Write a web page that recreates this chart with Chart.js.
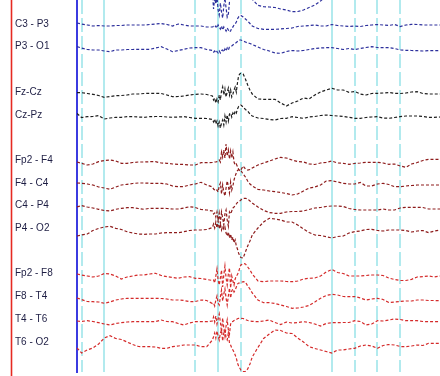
<!DOCTYPE html>
<html><head><meta charset="utf-8">
<script src="https://cdn.jsdelivr.net/npm/chart.js@4.4.1/dist/chart.umd.min.js"></script>
<style>html,body{margin:0;padding:0;background:#fff;}canvas{display:block;}</style>
</head><body>
<canvas id="c" width="440" height="376" style="width:440px;height:376px"></canvas>
<script>
// time axis (seconds)
const times = [0.76,0.80,0.85,0.90,0.95,1.00,1.05,1.10,1.15,1.20,1.25,1.30,1.35,1.40,1.45,1.50,1.55,1.60,1.65,1.70,1.75,1.80,1.85,1.90,1.95,
1.96,1.97,1.98,1.99,2.00,2.01,2.02,2.03,2.04,2.05,2.06,2.07,2.08,2.09,2.10,2.11,2.12,2.13,2.14,2.15,2.16,2.17,2.18,2.19,2.20,
2.22,2.24,2.26,2.28,2.30,
2.35,2.40,2.45,2.50,2.55,2.60,2.65,2.70,2.75,2.80,2.85,2.90,2.95,3.00,3.05,3.10,3.15,3.20,3.25,3.30,3.35,3.40,3.45,3.50,3.55,3.60,3.65,3.70,3.75,3.80,3.85,3.90,3.95];

const channelNames = ["C3 - P3","P3 - O1","Fz-Cz","Cz-Pz","Fp2 - F4","F4 - C4","C4 - P4","P4 - O2","Fp2 - F8","F8 - T4","T4 - T6","T6 - O2"];
const channelSlots = [0,1,3,4,6,7,8,9,11,12,13,14];
const solidLines = [1.0, 2.0, 3.0];
const dashedLines = [0.8, 1.8, 2.2, 3.2, 3.4, 3.6];

// signal amplitudes (positive = upward deflection)
const topTrace = [null,null,null,null,null,null,null,null,null,null,null,null,null,null,null,null,null,null,null,null,null,null,null,null,7,
-9.7,1.3,-4.7,3.3,-10.7,-15.7,-3.7,-12.7,-18.7,-6.7,1.3,-8.7,-17.7,-14.7,-2.7,5.3,9.3,12,14,15,16,16,15,14,13,
11,9,6,3,0,
-6,-7.4,-7.7,-8.2,-9.7,-10.7,-12.4,-12.2,-10.7,-8.2,-5.7,-1.7,3.3,null,null,null,null,null,null,null,null,null,null,null,null,null,null,null,null,null,null,null,null];

const c3p3 = [-1,-2,-3,-4,-3.5,-4,-4,-3.5,-3.5,-3,-3,-3,-3,-2.5,-2,-1.5,-2.5,-4,-2,-3,-4,-4,-4,-5,-5,
-4.5,-5.5,-4,-6,-3,-5,-7,-4,-8,-5,-7,-9,-6,-8,-10,-9,-6,-5,-3,-2,0,3,5,6,6.5,
5,3,1,-1.5,-4,
-6.5,-7.3,-7.3,-7.3,-7,-6.5,-6,-4.5,-4,-3.5,-3,-4,-4,-2.5,-3.5,-4,-4.5,-4,-4.5,-3.5,-3,-2.5,-3,-3.5,-2.5,-4.5,-3,-2.3,-2.5,-3,-3,-3,-3];

const p3o1 = [-2,-3.3,-4.8,-5.3,-5.3,-6.3,-7,-5.3,-5.3,-4.8,-4.8,-4.6,-4.6,-4.6,-3.3,-2,-4.3,-7,-5.8,-4.6,-3.3,-3,-3,-4.8,-5.8,
-7.3,-6.3,-8.3,-6.8,-8.3,-6.3,-8.3,-5.8,-5.3,-7.3,-4.3,-6.3,-3.3,-5.3,-2.3,-1.8,-1.3,-0.3,0.7,1.4,2.2,3.2,4.2,4.7,4.7,
3.7,2.7,1.7,1.2,0.2,
-2.3,-4.8,-6.3,-8.3,-8.6,-6.8,-5.8,-6.3,-5.8,-4.8,-3.8,-3.3,-3,-3,-3.8,-4.8,-3.8,-4.8,-3.8,-2.8,-2,-2.8,-3,-3,-3.8,-5.3,-5.6,-5.8,-6,-6.3,-5.8,-6,-5.8];

const fzcz = [-2.6,-2.6,-3.4,-4.2,-5.4,-7.2,-6.4,-5.6,-5.4,-4.9,-3.9,-3.9,-3.4,-3.2,-3.2,-3.4,-4.9,-6.6,-6.4,-5.9,-4.9,-4.2,-3.9,-4.4,-5.9,
-9.9,-7.9,-12.9,-8.9,-11.9,-4.9,-9.9,-0.9,3.1,-4.9,1.1,-6.9,-1.9,2.1,-4.9,0.1,-6.9,-3.9,0.1,3.1,-1.9,7.1,14.1,16.1,16.8,
16.1,11.1,5.1,0.1,-3.9,
-8.9,-9.2,-9.2,-9.2,-12.9,-15.9,-12.9,-10.9,-7.9,-8.9,-4.9,-1.9,0.1,1.8,0.1,0.1,-2.2,-1.4,-3.9,-4.9,-3.4,-3.2,-2.9,-2.4,-3.2,-3.4,-2.9,-1.9,-1.6,-3.4,-3.9,-3.9,-3.9];

const czpz = [-0.7,-4.7,-3.9,-3.7,-2.7,-6.2,-5.2,-4.5,-4.5,-3.9,-3.9,-4.2,-4.5,-3.9,-3.7,-3.7,-4.2,-4.5,-4.2,-3.9,-4.7,-5.5,-5.5,-5.7,-6.7,
-9.2,-6.2,-11.2,-8.2,-13.2,-9.2,-15.2,-10.2,-7.2,-12.2,-3.2,-9.2,-2.2,-8.2,-1.2,-0.2,-4.2,-0.2,-2.2,1.8,-0.2,3.8,6.3,7.3,7.8,
5.8,3.3,1.8,-1.2,-3.2,
-5.2,-5.7,-6.7,-7.2,-5.7,-5.5,-3.9,-4.7,-5.5,-4.2,-3.7,-2.7,-2.2,-2.7,-3.2,-3.7,-4.5,-5.5,-5.5,-4.7,-4.2,-3.9,-5.2,-5.5,-4.7,-3.9,-3.2,-3.2,-3.2,-3.7,-4.5,-4.5,-4.2];

const fp2f4 = [-3.8,-5.1,-6.8,-5.8,-3.5,-2.3,-1.8,-2.8,-5.1,-5.1,-4.3,-3.8,-3.8,-3.5,-3.5,-4.8,-5.1,-5.8,-6.1,-6.3,-6.8,-6.8,-4.5,-4.5,-4.3,
-4.3,-3.8,-3.8,-3.5,-2.8,-1.8,-3.8,6.2,1.2,8.2,0.2,14.2,2.2,8.2,-0.8,7.2,0.2,6.2,-3.8,-6.8,-5.8,-8.3,-10.8,-12.8,-11.8,
-7.8,-10.8,-11.8,-11.3,-9.8,
-6.8,-4.8,-2.8,-0.8,0.9,0.2,-1.8,-3.3,-3.8,-5.8,-6.3,-4.8,-4.1,-2.8,-4.8,-5.1,-6.1,-5.3,-4.8,-4.1,-4.1,-4.1,-4.8,-6.1,-5.8,-7.8,-9.1,-5.8,-4.3,-2.3,-1.1,-1.1,-1.1];

const f4c4 = [-2.1,-2.4,-3.1,-4.1,-6.1,-7.1,-8.4,-6.1,-4.1,-3.4,-2.6,-2.1,-2.1,-2.4,-2.4,-2.4,-3.1,-5.1,-5.8,-5.6,-4.1,-3.1,-1.4,-4.1,-6.1,
-8.1,-9.1,-10.1,-9.1,-11.1,-5.1,-2.1,-13.1,-4.1,-11.1,-15.1,-7.1,-0.1,-5.1,-12.1,-1.1,-9.1,-5.1,0.9,4.9,7.9,10.4,11.4,10.9,10.4,
6.9,3.9,-0.1,-3.1,-5.1,
-8.4,-9.1,-10.1,-10.8,-11.6,-12.6,-14.1,-13.1,-10.1,-7.1,-6.1,-4.1,-0.1,0.2,-1.1,-2.4,-3.1,-3.1,-1.6,-5.1,-5.1,-3.1,-2.4,-3.6,-5.8,-5.8,-5.1,-4.6,-4.1,-4.1,-4.1,-4.1,-4.1];

const c4p4 = [-3.4,-1.9,-3.4,-4.4,-5.7,-6.9,-7.4,-5.7,-4.7,-4.1,-4.1,-4.9,-5.7,-4.7,-4.7,-4.7,-4.9,-5.4,-5.4,-4.4,-3.1,-3.9,-5.9,-6.4,-7.4,
-10.4,-9.4,-13.4,-8.4,-16.4,-9.4,-19.4,-8.4,-14.4,-21.4,-10.4,-6.4,-16.4,-22.4,-8.4,-10.4,-7.4,-4.4,-3.4,-1.9,-0.4,1.1,2.1,2.6,3.6,
5.1,5.3,4.6,2.6,0.6,
-3.4,-6.9,-8.9,-9.7,-9.7,-8.4,-7.9,-7.9,-7.4,-5.9,-4.4,-3.9,-2.9,-2.4,-2.4,-2.9,-4.9,-5.9,-6.4,-6.4,-6.4,-6.4,-5.4,-6.4,-6.4,-4.4,-3.7,-3.7,-3.7,-3.9,-5.4,-5.4,-5.4];

const p4o2 = [-9.7,-8.7,-7.7,-4.2,-2.2,-0.7,0,-2,-3.2,-5.4,-6.7,-7.7,-8,-7.7,-7.7,-6.7,-6.4,-6.4,-6.4,-5.4,-4.2,-3.7,-3.7,-3.2,-1.2,
2.3,-1.7,4.3,-1.7,5.3,-2.7,2.3,-3.7,0.3,-2.7,-0.7,-6.7,-9.7,-5.7,-11.7,-7.7,-13.7,-10.7,-16.7,-13.7,-19.7,-22.7,-26.7,-29.7,-31.2,
-31.7,-25.7,-19.7,-14.7,-8.7,
-1.7,4.3,8,7.3,6.3,4.3,4.3,1.3,-2.7,-6.2,-8.7,-9.2,-10.4,-11.7,-10.2,-9.7,-6.7,-5.4,-4.7,-3.2,-3,-4.2,-4.7,-3.7,-3.7,-3.7,-4.2,-5.7,-4.7,-4.2,-6.4,-4.7,-3.7];

const fp2f8 = [-2.3,-3.3,-4.3,-5.3,-4.3,-1.8,-2.3,-4.3,-7.3,-5.3,-4.3,-3.3,-3.3,-2.3,-1.6,-3.8,-5,-5.8,-6.6,-5.3,-5,-6.6,-6.8,-7.8,-8.8,
-8.3,-11.3,-4.3,2.7,-8.3,-13.3,-6.3,1.7,-15.3,-3.3,5.7,-6.3,-13.3,-2.3,3.7,-16.3,-4.3,-9.3,-13.3,-7.3,-4.3,-2.8,-0.3,3.7,6.7,
8.2,7.7,4.7,1.7,-2.3,
-9.3,-10,-9.3,-9.3,-9.3,-9.8,-10,-9.3,-7.3,-6.6,-6.3,-4.3,-0.3,2.2,-0.8,-1.8,-4.3,-4.3,-4.3,-3.8,-3.3,-3.3,-3.8,-6.3,-7.8,-8.8,-8.8,-7.6,-5.3,-5,-4.3,-5.3,-4.3];

const f8t4 = [-3.6,-5.1,-7.1,-7.3,-7.6,-8.9,-7.6,-5.6,-4.6,-3.9,-3.9,-3.9,-3.9,-3.9,-3.9,-4.1,-4.6,-5.6,-5.6,-6.1,-7.3,-7.1,-5.6,-6.1,-9.1,
-8.6,-11.6,-5.6,-1.6,-8.6,-10.6,-2.6,4.4,-6.6,0.4,5.4,-3.6,-10.6,-1.6,6.4,-3.6,3.4,5.4,2.4,4.4,7.4,10.4,11.4,11.4,11.9,
12.7,12.4,8.4,5.4,1.4,
-5.6,-8.3,-8.3,-9.1,-10.6,-12.1,-13.9,-13.6,-12.6,-11.1,-7.6,-3.9,-1.1,0.1,-0.6,-2.1,-2.3,-2.1,-3.6,-5.6,-4.6,-3.9,-5.1,-8.1,-7.6,-7.1,-6.6,-6.6,-5.6,-5.6,-6.1,-6.1,-6.3];

const t4t6 = [-3.9,-4.4,-3.6,-4.4,-5.6,-6.9,-7.9,-6.4,-5.6,-4.9,-4.6,-4.6,-4.6,-4.6,-4.4,-2.9,-4.4,-4.6,-6.4,-7.9,-5.9,-4.6,-4.6,-4.6,-3.9,
0.1,-4.9,1.1,-6.9,-1.9,3.1,-4.9,-14.9,-0.9,-10.9,-18.9,-8.9,-2.9,-12.9,-16.9,-6.9,-4.6,-4.4,-3.4,-2.9,-2.4,-1.6,-1.2,-1.2,-1.2,
-1.4,-2.4,-3.4,-3.9,-4.2,
-4.6,-3.9,-2.9,-5.4,-7.4,-4.9,-5.9,-5.4,-4.6,-5.4,-6.9,-8.9,-6.4,-5.6,-5.6,-5.4,-5.4,-3.6,-4.4,-7.9,-6.9,-3.6,-3.9,-2.9,-1.9,-2.4,-3.6,-3.6,-3.6,-4.4,-4.6,-4.6,-4.6];

const t6o2 = [-8.2,-13.2,-10.2,-8.2,-4.2,1.8,4.1,1.3,0.3,-2.2,-4.7,-6.7,-6.9,-6.9,-7.2,-8.5,-8.5,-6.9,-6.2,-5.2,-5.2,-5.2,-6.9,-6.9,-0.2,
3.1,6.8,1.8,8.8,3.8,-0.2,6.8,9.8,-1.2,6.8,9.8,1.8,-0.2,6.8,-3.2,-5.2,-8.2,-10.2,-12.2,-15.2,-18.2,-23.2,-26.2,-28.2,-30.2,
-31.9,-31.7,-29.2,-24.2,-17.2,
-7.7,1.3,5.8,9.8,9.3,6.8,6.3,1.8,-2.2,-6.9,-8.7,-10.2,-11.7,-13.2,-10.2,-10.2,-9.2,-8.5,-6.2,-5.2,-6.2,-8.5,-5.7,-4.7,-5.2,-6.7,-6.9,-6.2,-5.2,-5.7,-3.5,-3.5,-3.7];

const channelData = [c3p3, p3o1, fzcz, czpz, fp2f4, f4c4, c4p4, p4o2, fp2f8, f8t4, t4t6, t6o2];
const BLUE = '#2c2f9c', BLACK = '#1e1e1e', MAROON = '#8e1c1c', RED = '#d42a2a';
const channelColors = [BLUE, BLUE, BLACK, BLACK, MAROON, MAROON, MAROON, MAROON, RED, RED, RED, RED];

const SPACING = 22.7;
function toPoints(vals, slot) {
  return times.map((t, i) => ({x: t, y: vals[i] == null ? null : slot * SPACING - vals[i]}));
}
const lineStyle = {borderWidth: 1.2, borderDash: [3, 2], pointRadius: 0, fill: false, tension: 0, spanGaps: false};
const datasets = [Object.assign({label: 'top', data: toPoints(topTrace, -1), borderColor: BLUE}, lineStyle)];
channelData.forEach((vals, i) => {
  datasets.push(Object.assign({label: channelNames[i], data: toPoints(vals, channelSlots[i]), borderColor: channelColors[i]}, lineStyle));
});

const gridTimes = solidLines.concat(dashedLines).sort((a, b) => a - b);

const redLine = {
  id: 'redLine',
  afterDraw(chart) {
    const s = chart.scales.y, ctx = chart.ctx;
    ctx.save();
    ctx.strokeStyle = '#e62a22';
    ctx.lineWidth = 1.6;
    ctx.beginPath();
    ctx.moveTo(s.left - 3.5, 0);
    ctx.lineTo(s.left - 3.5, chart.height);
    ctx.stroke();
    ctx.restore();
  }
};

new Chart(document.getElementById('c'), {
  type: 'line',
  data: {datasets},
  plugins: [redLine],
  options: {
    responsive: false,
    animation: false,
    devicePixelRatio: 1,
    layout: {padding: {left: 15, right: 0, top: 0, bottom: 4}},
    plugins: {legend: {display: false}, tooltip: {enabled: false}},
    scales: {
      x: {
        type: 'linear', min: 0.76, max: 3.95,
        afterBuildTicks: s => { s.ticks = gridTimes.map(v => ({value: v})); },
        ticks: {display: false},
        grid: {color: '#b2eaee', lineWidth: 2, drawTicks: false},
        border: {display: false, dash: ctx => (ctx.tick && dashedLines.includes(ctx.tick.value)) ? [14, 4] : []}
      },
      y: {
        type: 'linear', position: 'left', reverse: true, min: -22, max: 350,
        afterBuildTicks: s => { s.ticks = channelSlots.map(k => ({value: k * SPACING})); },
        afterFit: s => { s.width = 62; s.paddingTop = 0; s.paddingBottom = 0; },
        grid: {display: false, drawTicks: false},
        border: {color: '#3b3be0', width: 2},
        ticks: {
          autoSkip: false, crossAlign: 'far', padding: 0, labelOffset: 2,
          color: '#1e1e44',
          font: {family: '"Liberation Sans", Arial, sans-serif', size: 10},
          callback: (v, i) => channelNames[i]
        }
      }
    }
  }
});
</script>
</body></html>
